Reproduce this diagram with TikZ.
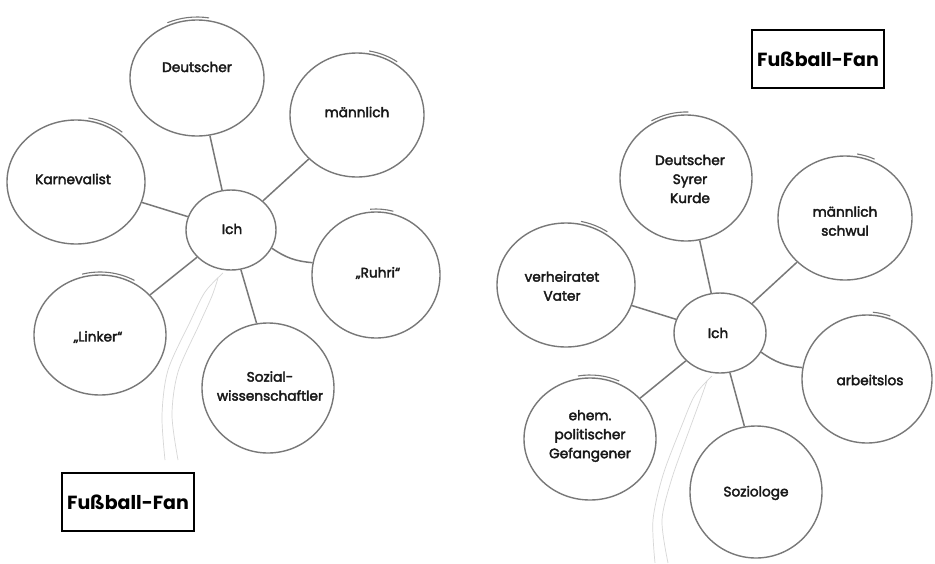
\documentclass[tikz,border=0pt]{standalone}
\usepackage{fontspec}
\setmainfont{Poppins}
\newfontfamily\lblfont{Poppins}[FakeBold=2.6]
\usetikzlibrary{shapes.geometric}
\definecolor{sketch}{RGB}{120,120,120}
\definecolor{faintc}{RGB}{215,215,215}
\tikzset{
  bub/.style={ellipse, draw=sketch, line width=1.4pt, inner sep=0pt},
  bubarc/.style={draw=sketch, line width=1.1pt},
  conn/.style={draw=sketch, line width=1.5pt},
  lbl/.style={align=center, font=\lblfont\fontsize{13.7}{19}\selectfont, text=black!90, inner sep=0pt},
  fanbox/.style={draw=black, line width=2pt, minimum width=132pt, minimum height=58pt, font=\fontsize{19}{22}\selectfont\bfseries},
  faint/.style={draw=faintc, line width=0.7pt}
}
% name, x, y, rx, ry, page angle start, page angle end
\newcommand\mybub[7]{%
  \node[bub, minimum width=#4*2pt, minimum height=#5*2pt] (#1) at (#2,#3) {};
  \draw[bubarc] (#2,#3) ++(-#6:{#4+3} and {#5+3}) arc[start angle=-#6, end angle=-#7, x radius=#4+3, y radius=#5+3];
}
\begin{document}
\begin{tikzpicture}[x=1pt,y=-1pt]
\useasboundingbox[fill=white] (0,0) rectangle (935,563);

% ---------------- left diagram ----------------
\draw[faint] plot[smooth] coordinates {(223,273) (205,292) (190,322) (168,370) (162,415) (165,460)};
\draw[faint] plot[smooth] coordinates {(218,278) (212,296) (199,325) (178,372) (172,415) (178,460)};

\mybub{deu}{197}{78}{67}{58}{115}{80}
\mybub{mae}{357}{115}{67}{62}{80}{55}
\mybub{kar}{76}{182}{69}{62}{80}{50}
\mybub{ich}{231}{230}{45}{40}{0}{0}
\mybub{ruh}{376}{275}{64}{63}{95}{75}
\mybub{lin}{100}{335}{66}{60}{105}{60}
\mybub{soz}{268}{388}{66}{65}{0}{0}

\node[lbl] (tdeu) at (197,67) {Deutscher};
\node[lbl] (tmae) at (357,112) {männlich};
\node[lbl] (tkar) at (73,179) {Karnevalist};
\node[lbl] (tich) at (232,229) {Ich};
\node[lbl] (truh) at (378,273) {„Ruhri“};
\node[lbl] (tlin) at (98,337) {„Linker“};
\node[lbl] (tsoz) at (270,386) {Sozial-\\wissenschaftler};

\draw[conn] (deu) -- (ich);
\draw[conn] (mae) -- (ich);
\draw[conn] (kar) -- (ich);
\draw[conn] (ich.-24) to[bend right=15] (ruh.169);
\draw[conn] (lin) -- (ich);
\draw[conn] (ich.-76) -- (soz.100);

\node[fanbox] (fan1) at (128,502) {Fußball-Fan};

% ---------------- right diagram ----------------
\draw[faint] plot[smooth] coordinates {(712,376) (695,395) (682,425) (663,475) (653,520) (655,563)};
\draw[faint] plot[smooth] coordinates {(707,381) (701,398) (690,428) (672,478) (662,520) (668,563)};

\node[fanbox] (fan2) at (818,59) {Fußball-Fan};

\mybub{dsk}{686}{178}{66}{63}{120}{88}
\mybub{msw}{845}{218}{67}{62}{80}{65}
\mybub{ver}{566}{285}{69}{62}{78}{55}
\mybub{ich2}{720}{333}{46}{40}{0}{0}
\mybub{arb}{867}{379}{65}{64}{85}{70}
\mybub{ehe}{590}{439}{66}{61}{100}{65}
\mybub{soc}{756}{492}{66}{66}{0}{0}

\node[lbl] (tdsk) at (690,179) {Deutscher\\Syrer\\Kurde};
\node[lbl] (tmsw) at (845,221) {männlich\\schwul};
\node[lbl] (tver) at (562,286) {verheiratet\\Vater};
\node[lbl] (tich2) at (718,333) {Ich};
\node[lbl] (tarb) at (870,380) {arbeitslos};
\node[lbl] (tehe) at (590,436) {ehem.\\politischer\\Gefangener};
\node[lbl] (tsoc) at (756,493) {Soziologe};

\draw[conn] (dsk) -- (ich2);
\draw[conn] (msw) -- (ich2);
\draw[conn] (ver) -- (ich2);
\draw[conn] (ich2.-25) to[bend right=15] (arb.170);
\draw[conn] (ehe) -- (ich2);
\draw[conn] (ich2.-76) -- (soc.100);
\end{tikzpicture}
\end{document}
